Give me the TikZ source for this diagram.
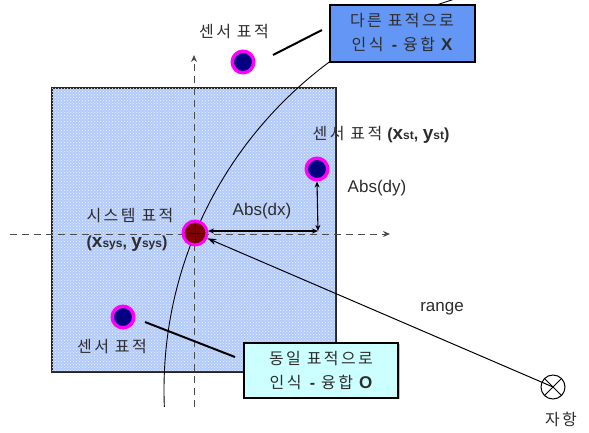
\documentclass[tikz,border=0pt]{standalone}
\usepackage{fontspec}
\setmainfont{Liberation Sans}
\newfontfamily\kr[LetterSpace=15]{Noto Sans CJK KR}
\usetikzlibrary{arrows.meta,shadows,patterns}
\definecolor{areafill}{RGB}{178,202,250}
\definecolor{boxblue}{RGB}{100,150,245}
\definecolor{boxcyan}{RGB}{204,255,255}
\definecolor{ringmag}{RGB}{255,0,255}
\definecolor{dotnavy}{RGB}{0,0,128}
\definecolor{dotred}{RGB}{128,0,0}
\definecolor{txtgray}{RGB}{45,45,45}
\begin{document}
\begin{tikzpicture}[x=1pt,y=-1pt,
  krlab/.style={font=\kr\fontsize{16}{18}\selectfont, text=txtgray, inner sep=0pt},
  latlab/.style={font=\fontsize{17}{20}\selectfont, text=txtgray, inner sep=0pt},
  axis/.style={draw=black!70, line width=1pt, dash pattern=on 7pt off 5pt},
  sensor/.style={circle, fill=dotnavy, draw=ringmag, line width=3.5pt, minimum size=21.5pt, inner sep=0pt},
  systgt/.style={circle, fill=dotred, draw=ringmag, line width=3pt, minimum size=24pt, inner sep=0pt},
  fusebox/.style={draw=black, line width=2pt, align=center, inner sep=0pt,
    font=\kr\fontsize{16}{24}\selectfont, text=txtgray,
    drop shadow={shadow xshift=1.5pt, shadow yshift=-1.5pt, fill=black!40, opacity=0.6}},
  pointer/.style={line width=2pt, draw=black},
  dimarrow/.style={line width=1.1pt, {Stealth[length=6pt,width=5pt]}-{Stealth[length=6pt,width=5pt]}}
]
\useasboundingbox (0,0) rectangle (589,432);
\fill[white] (0,0) rectangle (589,432);

% area
\node[draw=black!85, line width=1.2pt, fill=areafill, minimum width=284pt, minimum height=284pt, inner sep=0pt] (area) at (194,230) {};
\fill[pattern=crosshatch dots, pattern color=white!80!areafill] (area.north west) rectangle (area.south east);
\draw[black!85, line width=1.2pt] (area.north west) rectangle (area.south east);

% axes
\coordinate (hx0) at (10,234);
\coordinate (hx1) at (390,234);
\coordinate (vy0) at (194,407);
\coordinate (vy1) at (194,55);
\draw[axis, -{Stealth[length=7pt,width=6pt]}] (hx0) -- (hx1);
\draw[axis, -{Stealth[length=7pt,width=6pt]}] (vy0) -- (vy1);

% range arc
\begin{scope}
  \clip (0,0) rectangle (589,406);
  \coordinate (arcc) at (572,390);
  \draw[line width=0.9pt] (arcc) circle[radius=408pt];
\end{scope}

% targets
\node[sensor] (s1) at (243,62) {};
\node[sensor] (s2) at (317,169) {};
\node[sensor] (s3) at (123,317) {};
\node[systgt] (sys) at (195,233) {};
\draw[line width=1pt] ([xshift=-9pt]sys.center) -- ([xshift=9pt]sys.center);
\draw[line width=1pt] ([yshift=-9pt]sys.center) -- ([yshift=9pt]sys.center);

% own ship
\node[draw=black, line width=1pt, circle, minimum size=24pt, inner sep=0pt] (air) at (553,387) {};
\draw[line width=1pt] (air.north west) -- (air.south east);
\draw[line width=1pt] (air.north east) -- (air.south west);
\draw[line width=1pt, -{Stealth[length=9pt,width=6pt]}] (air.center) -- (sys);

% dx, dy
\coordinate (dxl) at (208,231);
\coordinate (dxr) at (318,231);
\draw[dimarrow] (dxl) -- (dxr);
\draw[dimarrow] (dxr) -- (s2.south);

% labels
\node[krlab] (l1) at (234,32) {센서 표적};
\node[krlab] (l3) at (112,347) {센서 표적};
\node[krlab] (lsys) at (130,216) {시스템 표적};
\node[font=\bfseries, text=txtgray, inner sep=0pt] (lsysxy) at (127,244)
  {\fontsize{16}{18}\selectfont(\fontsize{19}{20}\selectfont x\fontsize{12}{14}\selectfont sys\fontsize{16}{18}\selectfont, \fontsize{19}{20}\selectfont y\fontsize{12}{14}\selectfont sys\fontsize{16}{18}\selectfont)};
\node[inner sep=0pt, text=txtgray] (l2) at (381,135)
  {{\kr\fontsize{16}{18}\selectfont 센서 표적}\kern5pt\bfseries\fontsize{16}{18}\selectfont(\fontsize{19}{20}\selectfont x\fontsize{12}{14}\selectfont st\fontsize{16}{18}\selectfont, \fontsize{19}{20}\selectfont y\fontsize{12}{14}\selectfont st\fontsize{16}{18}\selectfont)};
\node[latlab] (ldx) at (262,211) {Abs(dx)};
\node[latlab] (ldy) at (377,188) {Abs(dy)};
\node[latlab] (lrange) at (442,309) {range};
\node[krlab] (lair) at (561,419) {자항};

% fusion boxes
\node[fusebox, fill=boxblue, minimum width=145pt, minimum height=57pt] (b1) at (402,33)
  {다른 표적으로\\인식 \textbf{\fontspec{Liberation Sans}-} 융합 {\fontspec{Liberation Sans}\bfseries\fontsize{17}{20}\selectfont X}};
\node[fusebox, fill=boxcyan, minimum width=154pt, minimum height=55pt] (b2) at (321,370)
  {동일 표적으로\\인식 \textbf{\fontspec{Liberation Sans}-} 융합 {\fontspec{Liberation Sans}\bfseries\fontsize{17}{20}\selectfont O}};

% pointer lines
\coordinate (p1a) at (273,55);
\coordinate (p1b) at (322,30);
\coordinate (p2a) at (145,322);
\coordinate (p2b) at (235,357);
\draw[pointer] (p1a) -- (p1b);
\draw[pointer] (p2a) -- (p2b);
\end{tikzpicture}
\end{document}
